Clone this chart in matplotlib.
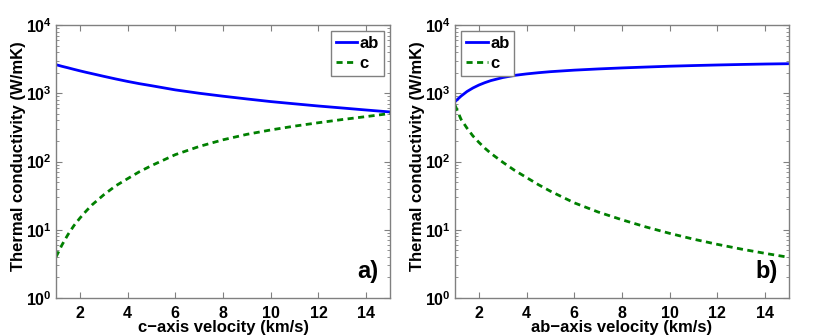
import numpy as np
import matplotlib
matplotlib.use("Agg")
import matplotlib.pyplot as plt

plt.rcParams['font.family'] = ['Liberation Sans', 'DejaVu Sans']
plt.rcParams['font.weight'] = 'bold'
plt.rcParams['mathtext.fontset'] = 'custom'
plt.rcParams['mathtext.rm'] = 'Liberation Sans:bold'
plt.rcParams['mathtext.bf'] = 'Liberation Sans:bold'
plt.rcParams['mathtext.default'] = 'bf'

# velocity samples (km/s)
v = [1, 1.25, 1.5, 1.75, 2, 2.25, 2.5, 3, 3.5, 4, 4.5, 5, 6, 7, 8, 9, 10, 11, 12, 13, 14, 15]

# panel a) vs c-axis velocity
a_ab = [2620, 2480, 2360, 2240, 2130, 2030, 1940, 1770, 1620, 1490, 1380, 1290,
        1120, 1000, 905, 825, 755, 700, 650, 608, 568, 532]
a_c = [4.0, 6.0, 8.5, 11.5, 14.8, 18.6, 23, 32.5, 44, 56, 71, 87,
       126, 166, 208, 250, 290, 330, 370, 412, 455, 505]

# panel b) vs ab-axis velocity
b_ab = [753, 906, 1059, 1194, 1318, 1429, 1531, 1698, 1828, 1920, 2000, 2070,
        2180, 2270, 2350, 2420, 2490, 2545, 2595, 2640, 2680, 2710]
b_c = [670, 417, 309, 237, 191, 157, 132, 97.7, 74.1, 58.2, 45.7, 36.7,
       24.8, 18.2, 14.0, 11.0, 8.85, 7.28, 6.11, 5.21, 4.51, 3.94]

panels = [
    (a_ab, a_c, 'c\u2212axis velocity (km/s)', 'a)', 'upper right'),
    (b_ab, b_c, 'ab\u2212axis velocity (km/s)', 'b)', 'upper left'),
]

fig = plt.figure(figsize=(8.3, 3.35), dpi=100)
lefts = [0.0675, 0.5482]
gray = '#808080'

for left, (ab, c, xlab, tag, loc) in zip(lefts, panels):
    ax = fig.add_axes([left, 0.1104, 0.4024, 0.815])
    ax.plot(v, ab, color='#0000ff', lw=2, label='ab')
    ax.plot(v, c, color='#008000', lw=2, ls=(0, (2.2, 1.6)), label='c')
    ax.set_yscale('log')
    ax.set_xlim(1, 15)
    ax.set_ylim(1, 1e4)
    ax.set_xticks([2, 4, 6, 8, 10, 12, 14])
    ax.set_yticks([1, 10, 100, 1000, 10000])
    ax.tick_params(which='both', direction='in', top=True, right=True,
                   colors=gray, labelcolor='black', labelsize=11.5)
    ax.tick_params(which='major', length=4, pad=3)
    ax.tick_params(which='minor', length=2)
    ax.tick_params(axis='x', pad=6)
    for s in ax.spines.values():
        s.set_color(gray)
        s.set_linewidth(1)
    ax.set_xlabel(xlab, fontsize=12, fontweight='bold', labelpad=-1)
    ax.set_ylabel('Thermal conductivity (W/mK)', fontsize=12, fontweight='bold')
    ax.yaxis.set_label_coords(-0.09, 0.52)
    ax.text(0.965, 0.055, tag, transform=ax.transAxes, ha='right', va='bottom',
            fontsize=17, fontweight='bold')
    leg = ax.legend(loc=loc, fancybox=False, edgecolor=gray, framealpha=1,
                    fontsize=12, handlelength=1.3, handletextpad=0.15,
                    borderpad=0.3, labelspacing=0.3, borderaxespad=0.35)
    leg.get_frame().set_linewidth(1)

fig.savefig('out.png', dpi=100)
